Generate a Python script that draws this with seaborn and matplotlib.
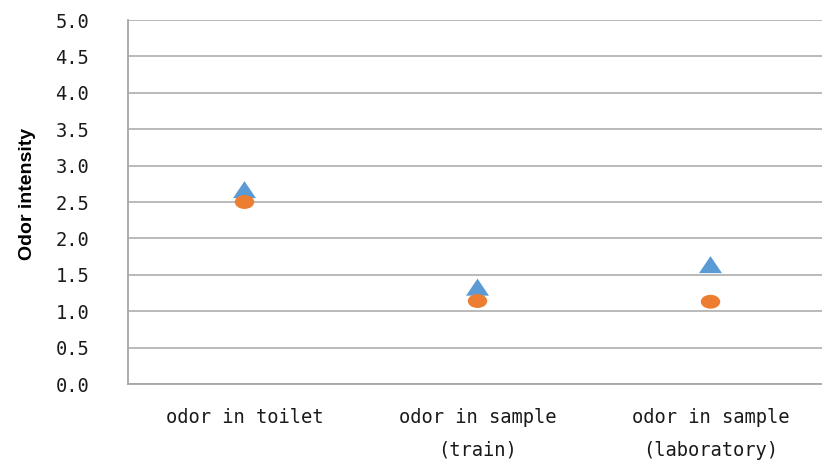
import matplotlib
matplotlib.use("Agg")
import matplotlib.pyplot as plt
from matplotlib.markers import MarkerStyle
from matplotlib.transforms import Affine2D
from matplotlib.ticker import FixedLocator
import seaborn as sns
import pandas as pd

# Data
categories = ["odor in toilet", "odor in sample\n(train)", "odor in sample\n(laboratory)"]
series1_values = [2.67, 1.33, 1.64]   # blue triangles
series2_values = [2.50, 1.14, 1.13]   # orange circles
y_ticks = [0.0, 0.5, 1.0, 1.5, 2.0, 2.5, 3.0, 3.5, 4.0, 4.5, 5.0]

df1 = pd.DataFrame({"category": categories, "value": series1_values})
df2 = pd.DataFrame({"category": categories, "value": series2_values})

sns.set_theme(style="white")
plt.rcParams["font.family"] = ["DejaVu Sans Mono", "DejaVu Sans"]
plt.rcParams["ytick.major.pad"] = 22
plt.rcParams["xtick.major.pad"] = 17

W, H = 822, 463
fig = plt.figure(figsize=(W / 100, H / 100), dpi=100)
left, right, top, bottom = 128, 827, 20, 384
ax = fig.add_axes([left / W, 1 - bottom / H, (right - left) / W, (bottom - top) / H])

grid_color = "#b4b4b4"
axis_color = "#a6a6a6"
text_color = "#1a1a1a"

# Markers slightly wider than tall
tri = MarkerStyle("^", transform=Affine2D().scale(1.35, 1.0))
dot = MarkerStyle("o", transform=Affine2D().scale(1.4, 1.0))

sns.scatterplot(data=df1, x="category", y="value", marker=tri, s=150,
                color="#5B9BD5", edgecolor="none", linewidth=0, ax=ax, zorder=3)
sns.scatterplot(data=df2, x="category", y="value", marker=dot, s=100,
                color="#ED7D31", edgecolor="none", linewidth=0, ax=ax, zorder=4)

ax.set_xlim(-0.5, len(categories) - 0.5)
ax.set_ylim(0, 5)
ax.set_yticks(y_ticks)
ax.set_yticklabels([f"{v:.1f}" for v in y_ticks], fontsize=13.5, color=text_color)
ax.yaxis.grid(True, color=grid_color, linewidth=1.3)
ax.set_axisbelow(True)

# Category labels at centres, tick marks on category boundaries
ax.set_xticks(range(len(categories)))
ax.set_xticklabels(categories, linespacing=1.95, fontsize=13.5, color=text_color)
ax.xaxis.set_minor_locator(FixedLocator([i - 0.5 for i in range(len(categories) + 1)]))
ax.tick_params(axis="x", which="major", length=0)
ax.tick_params(axis="x", which="minor", length=6, width=1.2, color=axis_color, direction="out")
ax.tick_params(axis="y", which="major", length=6, width=1.2, color=axis_color, direction="out")

for side in ["top", "right"]:
    ax.spines[side].set_visible(False)
for side in ["left", "bottom"]:
    ax.spines[side].set_color(axis_color)
    ax.spines[side].set_linewidth(1.3)

ax.set_xlabel("")
ax.set_ylabel("Odor intensity", fontsize=14, fontweight="bold",
              family=["Liberation Sans", "DejaVu Sans"], color="#000000")
ax.yaxis.set_label_coords(-(left - 36) / (right - left), 1 - (194 - top) / (bottom - top))

fig.savefig("out.png", dpi=100)
